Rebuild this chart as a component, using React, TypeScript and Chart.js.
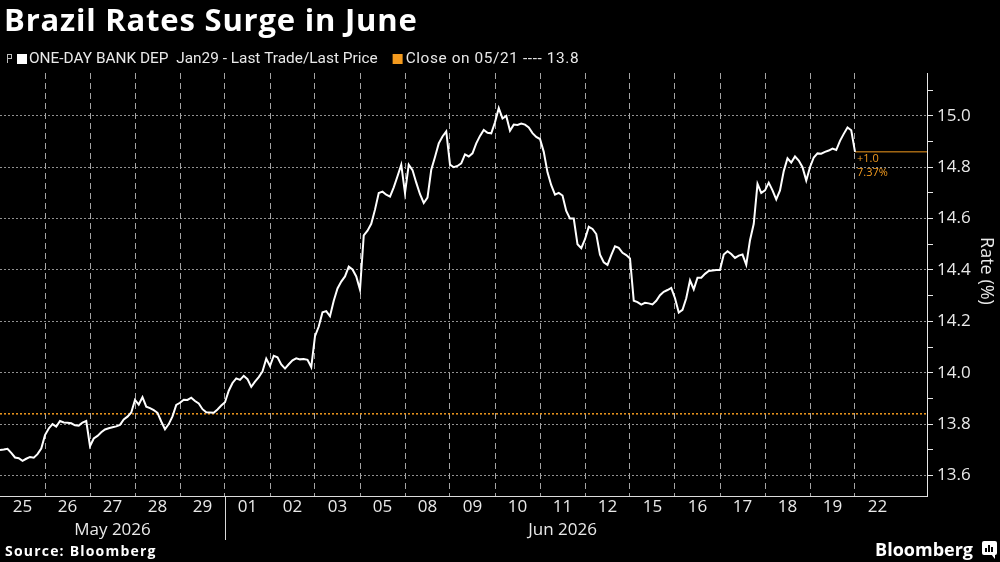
import { useEffect, useRef } from "react";
import { Chart, registerables } from "chart.js";

Chart.register(...registerables);

// ---------- text ----------
const TITLE = "Brazil Rates Surge in June";
const SERIES_LABEL = "ONE-DAY BANK DEP  Jan29 - Last Trade/Last Price";
const CLOSE_LABEL_PREFIX = "Close on 05/21 ---- ";
const SOURCE = "Source: Bloomberg";
const BRAND = "Bloomberg";
const Y_TITLE = "Rate (%)";

// ---------- categories ----------
const dayLabels = ["25", "26", "27", "28", "29", "01", "02", "03", "05", "08", "09", "10", "11", "12", "15", "16", "17", "18", "19", "22"];
const monthLabels = ["May 2026", "Jun 2026"];
const monthFirstDay = [0, 5];
const monthLastDay = [5, 20];

// ---------- series (intraday samples, 12 per trading day) ----------
const may25 = [13.699, 13.701, 13.704, 13.688, 13.670, 13.667, 13.657, 13.665, 13.672, 13.669, 13.683, 13.705];
const may26 = [13.757, 13.783, 13.800, 13.790, 13.812, 13.806, 13.805, 13.803, 13.795, 13.794, 13.806, 13.812];
const may27 = [13.714, 13.744, 13.754, 13.768, 13.779, 13.784, 13.788, 13.791, 13.797, 13.818, 13.829, 13.845];
const may28 = [13.894, 13.876, 13.905, 13.868, 13.862, 13.854, 13.844, 13.810, 13.780, 13.800, 13.830, 13.875];
const may29 = [13.883, 13.895, 13.894, 13.903, 13.890, 13.880, 13.858, 13.846, 13.845, 13.844, 13.857, 13.872];
const jun01 = [13.885, 13.930, 13.960, 13.978, 13.972, 13.988, 13.975, 13.945, 13.965, 13.983, 14.005, 14.055];
const jun02 = [14.026, 14.066, 14.060, 14.032, 14.016, 14.033, 14.048, 14.056, 14.052, 14.053, 14.050, 14.022];
const jun03 = [14.142, 14.180, 14.235, 14.240, 14.220, 14.280, 14.328, 14.355, 14.375, 14.413, 14.402, 14.375];
const jun05 = [14.323, 14.535, 14.553, 14.580, 14.635, 14.700, 14.705, 14.693, 14.686, 14.722, 14.765, 14.810];
const jun08 = [14.699, 14.810, 14.789, 14.740, 14.695, 14.661, 14.682, 14.790, 14.840, 14.893, 14.920, 14.940];
const jun09 = [14.810, 14.800, 14.805, 14.815, 14.850, 14.842, 14.854, 14.893, 14.922, 14.945, 14.934, 14.932];
const jun10 = [14.975, 15.030, 14.990, 15.000, 14.942, 14.966, 14.965, 14.970, 14.966, 14.955, 14.933, 14.918];
const jun11 = [14.910, 14.860, 14.780, 14.730, 14.693, 14.700, 14.690, 14.630, 14.600, 14.600, 14.500, 14.485];
const jun12 = [14.520, 14.568, 14.560, 14.540, 14.460, 14.430, 14.420, 14.458, 14.492, 14.486, 14.467, 14.458];
const jun15 = [14.445, 14.280, 14.275, 14.265, 14.272, 14.270, 14.266, 14.280, 14.302, 14.315, 14.322, 14.330];
const jun16 = [14.290, 14.234, 14.245, 14.290, 14.360, 14.325, 14.370, 14.370, 14.385, 14.396, 14.398, 14.400];
const jun17 = [14.400, 14.460, 14.473, 14.462, 14.447, 14.456, 14.460, 14.420, 14.516, 14.580, 14.735, 14.700];
const jun18 = [14.710, 14.740, 14.710, 14.675, 14.710, 14.785, 14.835, 14.818, 14.842, 14.826, 14.800, 14.748];
const jun19 = [14.800, 14.838, 14.854, 14.853, 14.860, 14.865, 14.873, 14.867, 14.903, 14.930, 14.955, 14.944];
const jun22 = [14.860];

const closeValue = 13.84;

// ---------- axis ticks ----------
const yTickValues = [13.6, 13.7, 13.8, 13.9, 14.0, 14.1, 14.2, 14.3, 14.4, 14.5, 14.6, 14.7, 14.8, 14.9, 15.0, 15.1];
const yMajorLabels = ["13.6", "13.8", "14.0", "14.2", "14.4", "14.6", "14.8", "15.0"];

// ---------- derived ----------
const SPD = 12; // samples per trading day
const rateSeries = [
  ...may25, ...may26, ...may27, ...may28, ...may29,
  ...jun01, ...jun02, ...jun03, ...jun05, ...jun08,
  ...jun09, ...jun10, ...jun11, ...jun12, ...jun15,
  ...jun16, ...jun17, ...jun18, ...jun19, ...jun22,
];
const lastIndex = rateSeries.length - 1;
const lastValue = rateSeries[lastIndex];
const X_MAX = 20.6 * SPD;
const Y_MIN = 13.52;
const Y_MAX = 15.167;

const ORANGE = "#f39a1e";
const LABEL_COLOR = "#e9e9e9";
const AXIS_FONT = "'Open Sans', sans-serif";

const fmtLabel = (v: number) => v.toFixed(1);
const isMajor = (v: number) => yMajorLabels.includes(fmtLabel(v));

const decorations = {
  id: "decorations",
  beforeDraw(chart: any) {
    const { ctx, width, height } = chart;
    ctx.save();
    ctx.fillStyle = "#000";
    ctx.fillRect(0, 0, width, height);
    ctx.restore();
  },
  afterDraw(chart: any) {
    const { ctx, chartArea, scales } = chart;
    const xs = scales.x;
    const ys = scales.y;
    ctx.save();

    // title
    ctx.fillStyle = "#ffffff";
    ctx.font = "bold 31px 'Open Sans', sans-serif";
    ctx.letterSpacing = "0.8px";
    ctx.textBaseline = "alphabetic";
    ctx.textAlign = "left";
    ctx.fillText(TITLE, 4, 31);
    ctx.letterSpacing = "0px";

    // legend
    const ly = 59;
    ctx.strokeStyle = "#bdbdbd";
    ctx.lineWidth = 1;
    ctx.strokeRect(7.5, 54.5, 4, 4);
    ctx.beginPath();
    ctx.moveTo(7.5, 58.5);
    ctx.lineTo(7.5, 63);
    ctx.stroke();
    ctx.fillStyle = "#ffffff";
    ctx.fillRect(17, 54, 10, 10);
    ctx.font = "15.4px Roboto, sans-serif";
    ctx.textBaseline = "middle";
    ctx.fillStyle = LABEL_COLOR;
    ctx.fillText(SERIES_LABEL, 29, ly);
    const w1 = ctx.measureText(SERIES_LABEL).width;
    const ox = 29 + w1 + 15;
    ctx.fillStyle = ORANGE;
    ctx.fillRect(ox, 54, 10, 10);
    ctx.fillStyle = LABEL_COLOR;
    ctx.letterSpacing = "0.6px";
    ctx.fillText(CLOSE_LABEL_PREFIX + closeValue.toFixed(1), ox + 13, ly);
    ctx.letterSpacing = "0px";

    // last value annotation
    const lx = xs.getPixelForValue(lastIndex);
    const lyPix = ys.getPixelForValue(lastValue);
    const change = lastValue - closeValue;
    const pct = (change / closeValue) * 100;
    ctx.fillStyle = ORANGE;
    ctx.font = "11px 'Open Sans', sans-serif";
    ctx.textBaseline = "middle";
    ctx.fillText((change >= 0 ? "+" : "") + change.toFixed(1), lx + 2, lyPix + 7);
    ctx.fillText(pct.toFixed(2) + "%", lx + 2, lyPix + 21);

    // month separator
    const sx = Math.round(xs.getPixelForValue(monthFirstDay[1] * SPD)) + 0.5;
    ctx.strokeStyle = "#d9d9d9";
    ctx.lineWidth = 1;
    ctx.beginPath();
    ctx.moveTo(sx, chartArea.bottom);
    ctx.lineTo(sx, 540);
    ctx.stroke();

    // y title
    ctx.save();
    ctx.translate(986, 271);
    ctx.rotate(Math.PI / 2);
    ctx.fillStyle = LABEL_COLOR;
    ctx.font = "18px 'Open Sans', sans-serif";
    ctx.textAlign = "center";
    ctx.textBaseline = "middle";
    ctx.fillText(Y_TITLE, 0, 0);
    ctx.restore();

    // footer
    ctx.fillStyle = "#ffffff";
    ctx.font = "bold 14px 'Open Sans', sans-serif";
    ctx.letterSpacing = "1.2px";
    ctx.textBaseline = "alphabetic";
    ctx.textAlign = "left";
    ctx.fillText(SOURCE, 5, 556);
    ctx.letterSpacing = "0px";

    ctx.font = "bold 18px 'Open Sans', sans-serif";
    ctx.textAlign = "right";
    ctx.fillText(BRAND, 973, 556);
    // brand icon
    ctx.fillStyle = "#ffffff";
    ctx.beginPath();
    ctx.roundRect(982, 541, 15, 14, 2);
    ctx.fill();
    ctx.beginPath();
    ctx.moveTo(991, 554);
    ctx.lineTo(995, 554);
    ctx.lineTo(995, 559);
    ctx.closePath();
    ctx.fill();
    ctx.fillStyle = "#000";
    ctx.fillRect(985, 548, 2, 4);
    ctx.fillRect(988, 545, 2, 7);
    ctx.fillRect(991, 547, 2, 5);
    ctx.restore();
  },
};

export default function App() {
  const ref = useRef<HTMLCanvasElement | null>(null);

  useEffect(() => {
    document.body.style.margin = "0";
    document.body.style.background = "#000";
    const canvas = ref.current;
    if (!canvas) return;

    const linePoints = rateSeries.map((v, i) => ({ x: i, y: v }));
    const closePoints = [
      { x: 0, y: closeValue },
      { x: X_MAX, y: closeValue },
    ];
    const lastPoints = [
      { x: lastIndex, y: lastValue },
      { x: X_MAX, y: lastValue },
    ];
    const dayBoundaries = dayLabels.slice(1).map((_, i) => (i + 1) * SPD);

    const chart = new Chart(canvas, {
      type: "line",
      data: {
        datasets: [
          {
            label: SERIES_LABEL,
            data: linePoints,
            borderColor: "#ffffff",
            borderWidth: 2,
            pointRadius: 0,
            tension: 0,
            xAxisID: "x",
            yAxisID: "y",
          },
          {
            label: "Close",
            data: closePoints,
            borderColor: ORANGE,
            borderWidth: 1.5,
            borderDash: [2, 2],
            pointRadius: 0,
            xAxisID: "x",
            yAxisID: "y",
          },
          {
            label: "Last",
            data: lastPoints,
            borderColor: ORANGE,
            borderWidth: 1,
            pointRadius: 0,
            xAxisID: "x",
            yAxisID: "y",
          },
        ],
      },
      options: {
        animation: false,
        responsive: true,
        maintainAspectRatio: false,
        layout: { padding: { top: 73, left: 0, right: 0, bottom: 22 } },
        plugins: {
          legend: { display: false },
          title: { display: false },
          tooltip: { enabled: false },
        },
        scales: {
          x: {
            type: "linear",
            position: "bottom",
            min: 0,
            max: X_MAX,
            afterBuildTicks: (s: any) => {
              s.ticks = dayBoundaries.map((v) => ({ value: v }));
            },
            ticks: { display: false },
            grid: { color: "rgba(205,205,205,0.8)", lineWidth: 1, drawTicks: false },
            border: { display: true, color: "#dcdcdc", width: 1, dash: [6, 4] },
            afterFit: (s: any) => {
              s.height = 0;
            },
          },
          xDays: {
            type: "linear",
            position: "bottom",
            min: 0,
            max: X_MAX,
            afterBuildTicks: (s: any) => {
              s.ticks = dayLabels.map((_, i) => ({ value: (i + 0.5) * SPD }));
            },
            ticks: {
              autoSkip: false,
              maxRotation: 0,
              padding: 1,
              color: LABEL_COLOR,
              font: { family: AXIS_FONT, size: 17 },
              callback: (_v: any, i: number) => dayLabels[i],
            },
            grid: { display: false, drawTicks: false },
            border: { display: false },
            afterFit: (s: any) => {
              s.height = 22;
            },
          },
          xMonths: {
            type: "linear",
            position: "bottom",
            min: 0,
            max: X_MAX,
            afterBuildTicks: (s: any) => {
              s.ticks = monthLabels.map((_, i) => ({ value: ((monthFirstDay[i] + monthLastDay[i]) / 2) * SPD }));
            },
            ticks: {
              autoSkip: false,
              maxRotation: 0,
              padding: 2,
              color: LABEL_COLOR,
              font: { family: AXIS_FONT, size: 17 },
              callback: (_v: any, i: number) => monthLabels[i],
            },
            grid: { display: false, drawTicks: false },
            border: { display: false },
            afterFit: (s: any) => {
              s.height = 22;
            },
          },
          y: {
            type: "linear",
            position: "right",
            min: Y_MIN,
            max: Y_MAX,
            afterBuildTicks: (s: any) => {
              s.ticks = yTickValues.map((v) => ({ value: v }));
            },
            ticks: {
              padding: 4,
              color: LABEL_COLOR,
              font: { family: AXIS_FONT, size: 17 },
              callback: (v: any) => (isMajor(Number(v)) ? fmtLabel(Number(v)) : ""),
            },
            grid: {
              color: (c: any) => (c.tick && isMajor(c.tick.value) ? "rgba(170,170,170,0.85)" : "rgba(0,0,0,0)"),
              tickColor: "#e6e6e6",
              tickLength: 6,
              lineWidth: 1,
            },
            border: { display: true, color: "#e6e6e6", width: 1, dash: [2, 2] },
            afterFit: (s: any) => {
              s.width = 73;
            },
          },
        },
      },
      plugins: [decorations],
    });

    return () => chart.destroy();
  }, []);

  return (
    <div style={{ position: "absolute", left: 0, top: 0, width: 1000, height: 562, background: "#000" }}>
      <canvas ref={ref} />
    </div>
  );
}
